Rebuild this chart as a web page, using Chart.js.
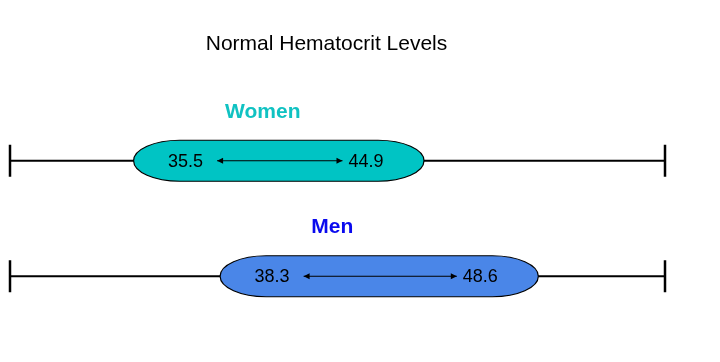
<!DOCTYPE html>
<html lang="en">
<head>
    <meta charset="UTF-8">
    <title>Normal Hematocrit Levels</title>
    <script src="https://cdn.jsdelivr.net/npm/chart.js@4.4.1/dist/chart.umd.min.js"></script>
    <style>
        html, body { margin: 0; padding: 0; background: #fff; }
        #wrap { width: 720px; height: 362px; }
    </style>
</head>
<body>
    <div id="wrap"><canvas id="hctChart"></canvas></div>

    <script>
        // Data
        const titleText = 'Normal Hematocrit Levels';
        const groups = ['Women', 'Men'];
        const lowValues = [35.5, 38.3];
        const highValues = [44.9, 48.6];
        const axisMin = 31.5;
        const axisMax = 52.7;

        const groupTextColors = ['#10c2c2', '#0a0aee'];
        const pillColors = ['#00c4c4', '#4a86e8'];
        const nameShift = [-16, -47];

        const FONT = '"Liberation Sans", Arial, sans-serif';

        // Draws the whisker line, pill shapes and labels for each row
        const pillPlugin = {
            id: 'pills',
            beforeDatasetsDraw(chart) {
                const ctx = chart.ctx;
                const xs = chart.scales.x;
                const meta = chart.getDatasetMeta(0);
                ctx.save();
                ctx.strokeStyle = '#000';
                meta.data.forEach((bar) => {
                    const left = xs.getPixelForValue(axisMin);
                    const right = xs.getPixelForValue(axisMax);
                    ctx.lineWidth = 2;
                    ctx.beginPath();
                    ctx.moveTo(left, bar.y);
                    ctx.lineTo(right, bar.y);
                    ctx.stroke();
                    ctx.lineWidth = 2.5;
                    [left, right].forEach((px) => {
                        ctx.beginPath();
                        ctx.moveTo(px, bar.y - 16);
                        ctx.lineTo(px, bar.y + 16);
                        ctx.stroke();
                    });
                });
                ctx.restore();
            },
            afterDatasetsDraw(chart) {
                const ctx = chart.ctx;
                const meta = chart.getDatasetMeta(0);
                const area = chart.chartArea;
                ctx.save();

                // title
                ctx.fillStyle = '#000';
                ctx.font = '21px ' + FONT;
                ctx.textAlign = 'center';
                ctx.textBaseline = 'middle';
                ctx.fillText(titleText, (area.left + area.right) / 2 - 11, 44);

                meta.data.forEach((bar, i) => {
                    const l = Math.min(bar.x, bar.base);
                    const r = Math.max(bar.x, bar.base);
                    const ry = bar.height / 2;
                    const rx = 46;
                    const cy = bar.y;

                    // pill with elliptical ends
                    ctx.beginPath();
                    ctx.moveTo(l + rx, cy - ry);
                    ctx.lineTo(r - rx, cy - ry);
                    ctx.ellipse(r - rx, cy, rx, ry, 0, -Math.PI / 2, Math.PI / 2);
                    ctx.lineTo(l + rx, cy + ry);
                    ctx.ellipse(l + rx, cy, rx, ry, 0, Math.PI / 2, Math.PI * 1.5);
                    ctx.closePath();
                    ctx.fillStyle = pillColors[i];
                    ctx.fill();
                    ctx.lineWidth = 1.2;
                    ctx.strokeStyle = '#000';
                    ctx.stroke();

                    // value labels
                    ctx.fillStyle = '#000';
                    ctx.font = '18px ' + FONT;
                    ctx.textAlign = 'center';
                    ctx.textBaseline = 'middle';
                    const lowText = lowValues[i].toFixed(1);
                    const highText = highValues[i].toFixed(1);
                    const lx = l + 52;
                    const hx = r - 58;
                    ctx.fillText(lowText, lx, cy + 1);
                    ctx.fillText(highText, hx, cy + 1);

                    // double arrow between the labels
                    const a0 = lx + ctx.measureText(lowText).width / 2 + 14;
                    const a1 = hx - ctx.measureText(highText).width / 2 - 6;
                    ctx.lineWidth = 1;
                    ctx.beginPath();
                    ctx.moveTo(a0, cy);
                    ctx.lineTo(a1, cy);
                    ctx.stroke();
                    ctx.beginPath();
                    ctx.moveTo(a0, cy);
                    ctx.lineTo(a0 + 6, cy - 3);
                    ctx.lineTo(a0 + 6, cy + 3);
                    ctx.closePath();
                    ctx.moveTo(a1, cy);
                    ctx.lineTo(a1 - 6, cy - 3);
                    ctx.lineTo(a1 - 6, cy + 3);
                    ctx.closePath();
                    ctx.fill();

                    // group name above the pill
                    ctx.font = 'bold 21px ' + FONT;
                    ctx.fillStyle = groupTextColors[i];
                    ctx.fillText(groups[i], (l + r) / 2 + nameShift[i], cy - 49);
                });
                ctx.restore();
            }
        };

        const ctx = document.getElementById('hctChart').getContext('2d');
        const chart = new Chart(ctx, {
            type: 'bar',
            data: {
                labels: groups,
                datasets: [{
                    label: 'Normal range',
                    data: groups.map((g, i) => [lowValues[i], highValues[i]]),
                    backgroundColor: 'rgba(0,0,0,0)',
                    borderWidth: 0,
                    barThickness: 41
                }]
            },
            options: {
                indexAxis: 'y',
                responsive: true,
                maintainAspectRatio: false,
                animation: false,
                layout: {
                    padding: { left: 10, right: 55, top: 103, bottom: 28 }
                },
                scales: {
                    x: { min: axisMin, max: axisMax, display: false },
                    y: { display: false, offset: true }
                },
                plugins: {
                    legend: { display: false },
                    tooltip: { enabled: false },
                    title: { display: false }
                }
            },
            plugins: [pillPlugin]
        });
    </script>
</body>
</html>
